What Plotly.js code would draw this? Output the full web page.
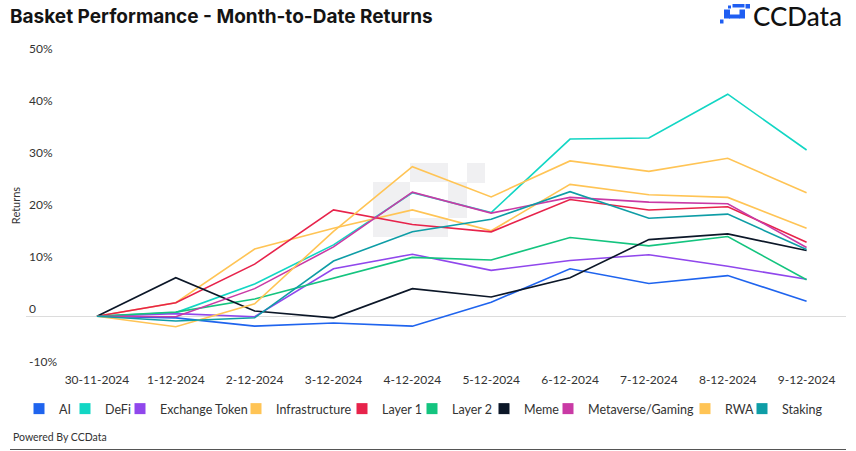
<!DOCTYPE html>
<html>
<head>
<meta charset="utf-8">
<script src="https://cdn.plot.ly/plotly-3.0.1.min.js"></script>
<style>html,body{margin:0;padding:0;background:#fff;}#chart{width:856px;height:451px;}</style>
</head>
<body>
<div id="chart"></div>
<script>
// ---- data ----
const dates = ['30-11-2024','1-12-2024','2-12-2024','3-12-2024','4-12-2024','5-12-2024','6-12-2024','7-12-2024','8-12-2024','9-12-2024'];
const seriesNames = ['AI','DeFi','Exchange Token','Infrastructure','Layer 1','Layer 2','Meme','Metaverse/Gaming','RWA','Staking'];
const aiValues        = [0, -0.3, -1.9, -1.3, -1.9,  2.7,  9.1,  6.3,  7.8,  2.9];
const defiValues      = [0,  0.7,  6.2, 13.7, 23.7, 19.9, 34.0, 34.2, 42.6, 31.9];
const exchangeValues  = [0,  0.5, -0.1,  9.1, 11.9,  8.8, 10.7, 11.8,  9.6,  7.1];
const infraValues     = [0,  2.6, 12.9, 16.9, 20.4, 16.4, 25.3, 23.3, 22.8, 16.9];
const layer1Values    = [0,  2.6, 10.0, 20.4, 17.6, 16.2, 22.4, 20.4, 21.0, 14.2];
const layer2Values    = [0,  0.8,  3.3,  7.3, 11.3, 10.8, 15.1, 13.5, 15.3,  7.0];
const memeValues      = [0,  7.4,  1.0, -0.3,  5.3,  3.7,  7.4, 14.7, 15.8, 12.6];
const metaverseValues = [0, -0.1,  5.3, 13.3, 23.8, 19.8, 22.8, 21.9, 21.6, 13.2];
const rwaValues       = [0, -2.0,  2.4, 16.3, 28.7, 22.9, 29.8, 27.8, 30.3, 23.7];
const stakingValues   = [0, -0.9, -0.3, 10.6, 16.2, 18.6, 23.9, 18.8, 19.6, 12.8];
const yTickValues = [-10, 0, 10, 20, 30, 40, 50];
const yTickLabels = ['-10%', '0', '10%', '20%', '30%', '40%', '50%'];

// ---- style ----
const seriesValues = [aiValues, defiValues, exchangeValues, infraValues, layer1Values, layer2Values, memeValues, metaverseValues, rwaValues, stakingValues];
const colors = ['#1F64EE','#12D6C4','#9047EC','#FFC455','#E7234B','#14C47F','#0C1728','#C93AA5','#FFC455','#0E9DA6'];
const legendWidths = [1, 10, 71, 61, 25, 27, 19, 92, 12, 45];
const FONT = 'Lato, "Noto Sans", sans-serif';

const W = 856, H = 451, L = 26, R = 10, T = 40, B = 80;
const pw = W - L - R, ph = H - T - B;
const px = x => (x - L) / pw;
const py = y => (H - B - y) / ph;
function rect(x0, y0, x1, y1, color, layer) {
  return {type: 'rect', xref: 'paper', yref: 'paper', x0: px(x0), x1: px(x1), y0: py(y1), y1: py(y0),
          fillcolor: color, line: {width: 0}, layer: layer || 'above'};
}

const traces = [];
seriesNames.forEach((name, i) => {
  traces.push({x: dates, y: seriesValues[i], type: 'scatter', mode: 'lines', name: name,
    line: {color: colors[i], width: 1.6}, showlegend: false});
});
seriesNames.forEach((name, i) => {
  traces.push({x: [null], y: [null], type: 'scatter', mode: 'markers', name: name,
    marker: {symbol: 'square', size: 11, color: colors[i]}, legendwidth: legendWidths[i],
    showlegend: true, hoverinfo: 'skip'});
});

const wm = '#F0F0F2';
const logo = '#1F5EF2';
const shapes = [
  rect(410, 163, 448, 182, wm, 'below'),
  rect(467, 163, 485, 183, wm, 'below'),
  rect(373, 182, 410, 237, wm, 'below'),
  rect(410, 218, 448, 237, wm, 'below'),
  rect(448, 182, 467, 218, wm, 'below'),
  rect(728, 5.5, 731, 8.5, logo),
  rect(732.5, 4, 744.5, 7.5, logo),
  rect(745.5, 4, 750, 8.5, logo),
  rect(724, 9.5, 730, 18.5, logo),
  rect(739.5, 9.5, 745, 18.5, logo),
  rect(729, 14.5, 740, 18.5, logo),
  rect(720, 19.5, 723.5, 23.5, logo),
  {type: 'line', xref: 'paper', yref: 'paper', x0: px(10), x1: px(846), y0: py(449.5), y1: py(449.5),
   line: {color: '#555', width: 1}}
];

const layout = {
  width: W, height: H,
  margin: {l: L, r: R, t: T, b: B, pad: 0},
  paper_bgcolor: '#fff', plot_bgcolor: '#fff',
  font: {family: FONT, color: '#333'},
  title: {text: 'Basket Performance - Month-to-Date Returns', xref: 'container', x: 10 / W, xanchor: 'left',
          yref: 'container', y: 1 - 16 / H, yanchor: 'middle',
          font: {family: 'Inter, Lato, sans-serif', size: 19, weight: 700, color: '#141414'}},
  xaxis: {type: 'category', range: [-0.9, 9.5], showgrid: false, zeroline: false, showline: false,
          ticks: '', tickfont: {size: 12, color: '#333'}, fixedrange: true},
  yaxis: {range: [-10.5, 53], tickvals: yTickValues, ticktext: yTickLabels, ticklabelposition: 'inside',
          ticklabelshift: -7, ticks: '', showgrid: false, zeroline: true, zerolinecolor: '#DCDCDC', zerolinewidth: 1,
          showline: false, tickfont: {size: 12, color: '#333'},
          title: {text: 'Returns', font: {size: 11, color: '#333'}, standoff: 6}, fixedrange: true},
  legend: {orientation: 'h', xref: 'container', x: 19 / W, xanchor: 'left', yref: 'container', y: 1 - 409 / H,
           yanchor: 'middle', font: {size: 12.5, color: '#333'}, itemwidth: 30, bgcolor: 'rgba(0,0,0,0)'},
  shapes: shapes,
  annotations: [
    {text: 'CCData', xref: 'paper', yref: 'paper', x: px(751), y: py(16), xanchor: 'left', yanchor: 'middle',
     showarrow: false, font: {family: FONT, size: 26, weight: 500, color: '#111'}},
    {text: 'Powered By CCData', xref: 'paper', yref: 'paper', x: px(11), y: py(437), xanchor: 'left', yanchor: 'middle',
     showarrow: false, font: {family: FONT, size: 10.5, color: '#333'}}
  ],
  showlegend: true
};

Plotly.newPlot('chart', traces, layout, {displayModeBar: false, staticPlot: true});
</script>
</body>
</html>
